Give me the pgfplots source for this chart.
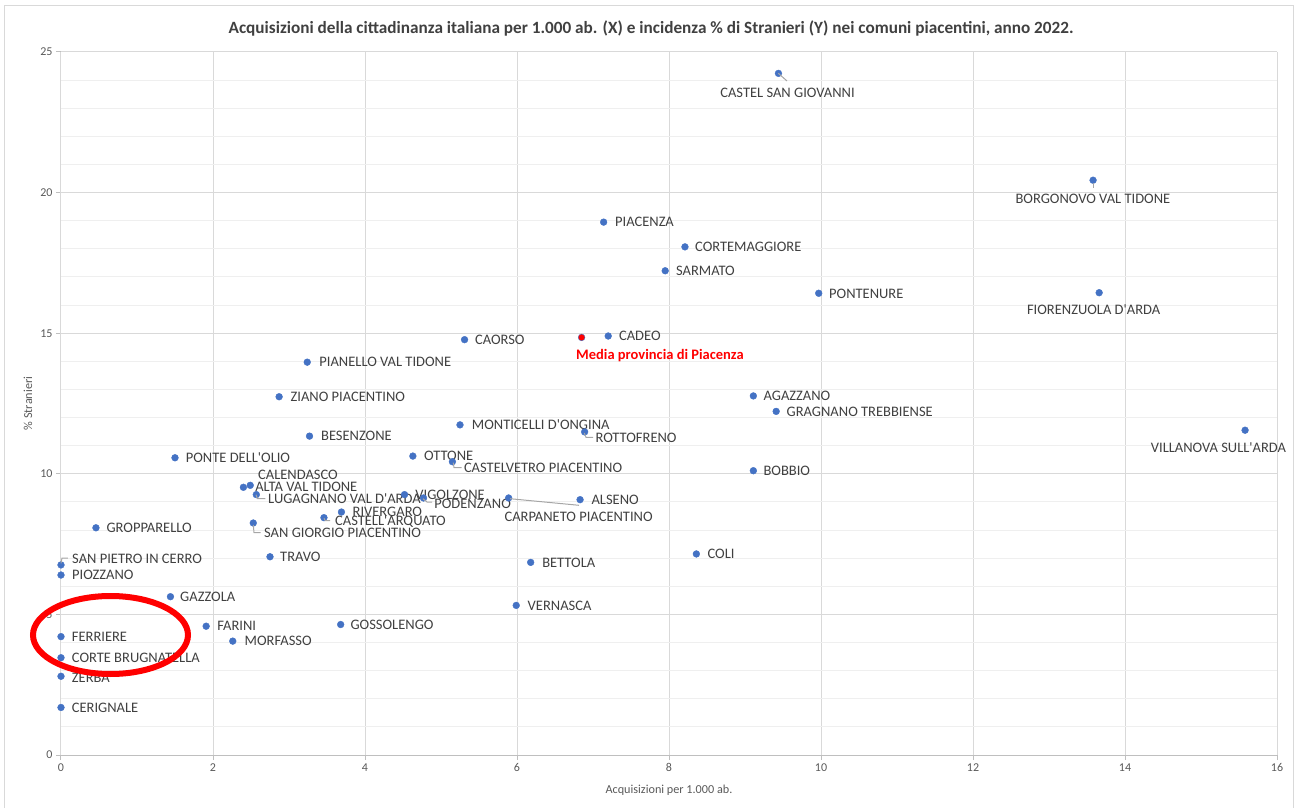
\documentclass[border=0pt]{standalone}
\usepackage{pgfplots}
\usepackage{pgfplotstable}
\pgfplotsset{compat=1.18}
\usepackage{fontspec}
\setmainfont{Carlito}
\newfontfamily\labelfont{Carlito}[Ligatures=TeXOff]

\definecolor{puntoblu}{HTML}{4472C4}
\definecolor{etichetta}{HTML}{404040}
\definecolor{assegrigio}{HTML}{595959}
\definecolor{grigliamaj}{HTML}{D9D9D9}
\definecolor{grigliamin}{HTML}{EFEFEF}
\definecolor{asse}{HTML}{BFBFBF}
\definecolor{guida}{HTML}{A6A6A6}

% x = acquisizioni per 1.000 ab., y = % stranieri, dx/dy = spostamento etichetta (pt)
\pgfplotstableread{
x     y     dx     dy     nome
9.44  24.24 -58.3  -19.4  {CASTEL SAN GIOVANNI}
13.58 20.44 -77.7  -18.7  {BORGONOVO VAL TIDONE}
7.14  18.95  11.3   0.0   {PIACENZA}
8.21  18.07  10.0   0.0   {CORTEMAGGIORE}
7.95  17.22  10.7   0.0   {SARMATO}
9.97  16.42  10.3  -0.4   {PONTENURE}
13.66 16.44 -72.3  -17.3  {FIORENZUOLA D'ARDA}
5.31  14.77  10.3  -0.3   {CAORSO}
7.20  14.90  10.7   0.0   {CADEO}
3.24  13.97  12.0   0.0   {PIANELLO VAL TIDONE}
2.87  12.74  11.3   0.0   {ZIANO PIACENTINO}
9.11  12.77  10.0   0.0   {AGAZZANO}
9.41  12.22  10.3   0.0   {GRAGNANO TREBBIENSE}
5.25  11.74  11.7   0.0   {MONTICELLI D'ONGINA}
6.89  11.49  10.7  -6.0   {ROTTOFRENO}
15.58 11.55 -94.4  -17.0  {VILLANOVA SULL'ARDA}
3.27  11.34  11.4   0.0   {BESENZONE}
1.50  10.57  10.7   0.0   {PONTE DELL'OLIO}
4.63  10.63  11.0   0.0   {OTTONE}
5.15  10.43  11.4  -6.3   {CASTELVETRO PIACENTINO}
9.11  10.11  10.0  -0.6   {BOBBIO}
2.49  9.59   7.7   10.3   {CALENDASCO}
2.40  9.52   11.7   0.0   {ALTA VAL TIDONE}
2.57  9.26   11.7  -4.3   {LUGAGNANO VAL D'ARDA}
4.52  9.26   10.7   0.0   {VIGOLZONE}
4.77  9.14   10.6  -6.3   {PODENZANO}
5.89  9.14  -4.3   -19.0  {CARPANETO PIACENTINO}
6.83  9.08   11.3  -0.3   {ALSENO}
3.69  8.64   11.0   0.0   {RIVERGARO}
3.46  8.44   11.0  -4.0   {CASTELL'ARQUATO}
2.53  8.25   10.7  -10.3  {SAN GIORGIO PIACENTINO}
0.46  8.08   10.4   0.0   {GROPPARELLO}
8.36  7.15   11.0   0.0   {COLI}
2.75  7.05   10.0   0.0   {TRAVO}
6.18  6.85   11.4   0.0   {BETTOLA}
0.00  6.76   11.0   6.0   {SAN PIETRO IN CERRO}
0.00  6.40   11.0   0.0   {PIOZZANO}
1.44  5.63   9.6    0.0   {GAZZOLA}
5.99  5.32   11.3   0.0   {VERNASCA}
3.68  4.64   9.7    0.0   {GOSSOLENGO}
1.91  4.58   11.0   0.0   {FARINI}
0.00  4.21   10.7   0.0   {FERRIERE}
2.26  4.05   11.7   0.0   {MORFASSO}
0.00  3.46   10.7   0.0   {CORTE BRUGNATELLA}
0.00  2.80   10.7  -1.7   {ZERBA}
0.00  1.69   10.7   0.0   {CERIGNALE}
}\comuni

\pgfplotstableread{
x     y
6.85  14.85
}\media

\begin{document}
\begin{tikzpicture}
\path[use as bounding box] (-61pt,-52pt) rectangle (1238pt,755pt);
\draw[grigliamaj, line width=1pt] (-56pt,-60pt) -- (-56pt,749pt) -- (1232pt,749pt) -- (1232pt,-60pt);
\begin{axis}[
    at={(0pt,0pt)}, anchor=south west,
    scale only axis, width=1216pt, height=703pt,
    xmin=0, xmax=16, ymin=0, ymax=25,
    xtick distance=2, ytick distance=5, minor y tick num=4,
    axis x line*=bottom, axis y line*=left,
    x axis line style={asse, line width=1pt, -},
    y axis line style={grigliamaj, line width=1pt, -},
    xmajorgrids, ymajorgrids, yminorgrids,
    major grid style={grigliamaj, line width=1pt},
    minor grid style={grigliamin, line width=1pt},
    tick align=outside, major tick length=5pt, minor tick length=0pt,
    tick style={asse, line width=1pt},
    /pgf/number format/assume math mode=true,
    ticklabel style={font=\fontsize{12}{14}\selectfont, text=assegrigio},
    xlabel={Acquisizioni per 1.000 ab.},
    ylabel={\% Stranieri},
    xlabel style={at={(axis description cs:0.5,-0.0498)}, anchor=center, font=\fontsize{12.2}{14}\selectfont, text=assegrigio},
    ylabel style={at={(axis description cs:-0.0271,0.5)}, anchor=center, font=\fontsize{12.2}{14}\selectfont, text=assegrigio},
    title={Acquisizioni della cittadinanza italiana per 1.000 ab. (X) e incidenza \% di Stranieri (Y) nei comuni piacentini, anno 2022.},
    title style={at={(axis description cs:0.5,1)}, anchor=center, yshift=18pt, xshift=-18pt, font=\bfseries\fontsize{17.2}{20}\selectfont, text=etichetta},
    clip=false,
]
\addplot[only marks, mark=*, mark size=3.4pt, mark options={draw=puntoblu, fill=puntoblu},
    point meta=explicit symbolic,
    visualization depends on={\thisrow{dx} \as \dx},
    visualization depends on={\thisrow{dy} \as \dy},
    nodes near coords,
    every node near coord/.append style={anchor=west, inner sep=0pt, xshift=\dx pt, yshift=\dy pt,
        font=\labelfont\fontsize{14.5}{17}\selectfont, text=etichetta},
] table[x=x, y=y, meta=nome] {\comuni};
\addplot[only marks, mark=*, mark size=3.4pt, mark options={draw=puntoblu, fill=red},
    nodes near coords={Media provincia di Piacenza},
    every node near coord/.append style={anchor=west, inner sep=0pt, xshift=-5.6pt, yshift=-17.7pt,
        font=\bfseries\fontsize{14.5}{17}\selectfont, text=red},
] table[x=x, y=y] {\media};
\end{axis}
% linee guida delle etichette
\begin{scope}[guida, line width=1pt]
\draw (717.3pt,681.7pt) -- (726pt,674pt);
\draw (1032pt,572pt) -- (1032pt,567pt);
\draw (523.3pt,322pt) -- (525pt,317.7pt) -- (532pt,317.7pt);
\draw (392.3pt,292.3pt) -- (393pt,287.3pt) -- (400.7pt,287.3pt);
\draw (362pt,256.3pt) -- (366pt,253pt) -- (371pt,253pt);
\draw (449pt,256.3pt) -- (518pt,249.7pt);
\draw (195pt,260.3pt) -- (196.3pt,256.3pt) -- (204.3pt,256.3pt);
\draw (263pt,236.7pt) -- (264.3pt,234.3pt) -- (269pt,234.3pt);
\draw (192.3pt,230pt) -- (193pt,222.3pt) -- (199.7pt,222.3pt);
\draw (0pt,191.7pt) -- (1pt,197pt) -- (7pt,197pt);
\end{scope}
% evidenziazione
\draw[red, line width=6pt] (49.5pt,120pt) ellipse [x radius=77.5pt, y radius=39pt];
\end{tikzpicture}
\end{document}
